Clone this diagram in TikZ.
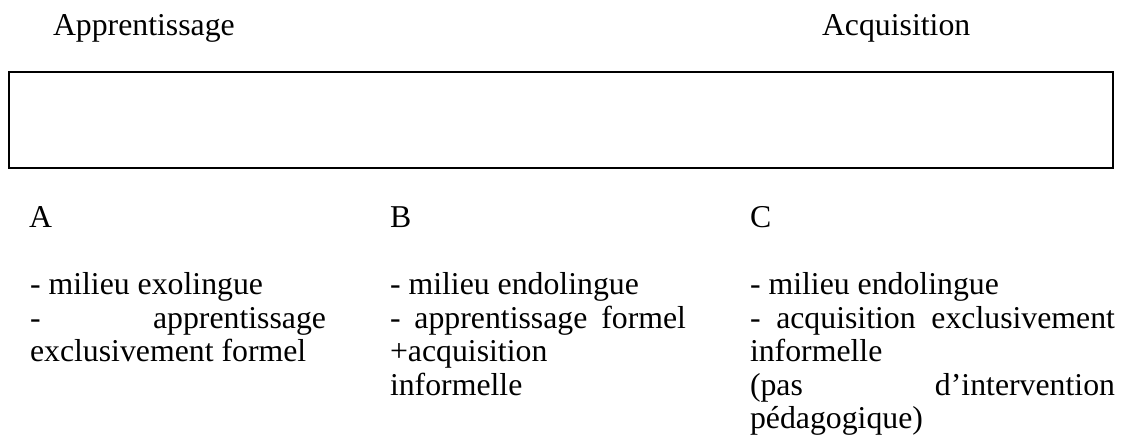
\documentclass[tikz,border=0pt]{standalone}
\usepackage{fontspec}
\setmainfont{Liberation Serif}
\tikzset{
  txt/.style={anchor=base west, inner sep=0pt, outer sep=0pt, font=\fontsize{31.9}{34}\selectfont},
  frame/.style={draw=black, line width=1.5bp}
}
\newcommand{\jline}[2]{\makebox[#1bp][s]{#2}}
\begin{document}
\begin{tikzpicture}[x=1bp,y=-1bp]
\useasboundingbox (0,0) rectangle (1125,435);
\node[txt] (t1) at (53,36) {Apprentissage};
\node[txt] (t2) at (822,36) {Acquisition};
\draw[frame] (9,72) rectangle (1113,168);
\node[txt] (ha) at (29,228) {A};
\node[txt] (hb) at (390,228) {B};
\node[txt] (hc) at (750,228) {C};
% column A
\node[txt] (a1) at (30,295) {- milieu exolingue};
\node[txt] (a2) at (30,328.5) {\jline{296}{- apprentissage}};
\node[txt] (a3) at (30,362) {exclusivement formel};
% column B
\node[txt] (b1) at (390,295) {- milieu endolingue};
\node[txt] (b2) at (390,328.5) {\jline{296}{- apprentissage formel}};
\node[txt] (b3) at (390,362) {+acquisition};
\node[txt] (b4) at (390,395.5) {informelle};
% column C
\node[txt] (c1) at (750,295) {- milieu endolingue};
\node[txt] (c2) at (750,328.5) {\jline{365}{- acquisition exclusivement}};
\node[txt] (c3) at (750,362) {informelle};
\node[txt] (c4) at (750,395.5) {\jline{365}{(pas d’intervention}};
\node[txt] (c5) at (750,429) {pédagogique)};
\end{tikzpicture}
\end{document}
